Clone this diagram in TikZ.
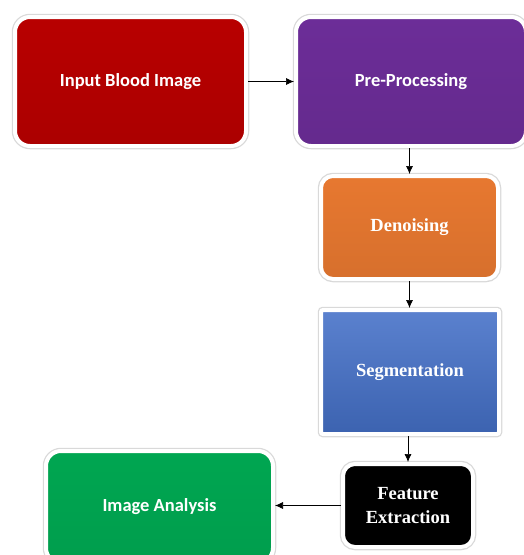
\documentclass[tikz,border=0pt]{standalone}
\usepackage{fontspec}
\setmainfont{Liberation Serif}
\newfontfamily\calibri{Carlito}
\usetikzlibrary{shadows,arrows.meta}

\definecolor{bloodred}{HTML}{B80000}
\definecolor{prepurple}{HTML}{6C2D98}
\definecolor{noiseorange}{HTML}{E77830}
\definecolor{segblue}{HTML}{4470C8}
\definecolor{analysisgreen}{HTML}{00A651}

\tikzset{
  box/.style={draw=white, line width=4pt, rounded corners=15pt, text=white,
    align=center, inner sep=0pt,
    preaction={draw=black!15, line width=6.5pt},
    drop shadow={opacity=0.25, shadow xshift=0pt, shadow yshift=-2pt}},
  sansbox/.style={box, font=\calibri\bfseries\fontsize{18.5}{24}\selectfont},
  serifbox/.style={box, font=\bfseries\fontsize{18.5}{24}\selectfont},
  flow/.style={-{Latex[length=8pt,width=7pt]}, line width=0.7pt, black}
}

\begin{document}
\begin{tikzpicture}[x=1pt,y=-1pt]
\useasboundingbox (0,0) rectangle (524,555);

% Top row
\node[sansbox, top color=bloodred, bottom color=bloodred!93!black,
  minimum width=231pt, minimum height=129pt] (input) at (130.5,81.5) {Input Blood Image};
\node[sansbox, top color=prepurple, bottom color=prepurple!93!black,
  minimum width=230pt, minimum height=129pt] (prep) at (411,81.5) {Pre-Processing};

% Right column
\node[serifbox, top color=noiseorange, bottom color=noiseorange!93!black, rounded corners=12pt,
  minimum width=177pt, minimum height=103pt] (denoise) at (409.5,227.5) {Denoising};
\node[serifbox, top color=segblue!88!white, bottom color=segblue!88!black, rounded corners=2pt,
  minimum width=178pt, minimum height=124pt] (segment) at (410,372) {Segmentation};
\node[serifbox, fill=black, rounded corners=12pt,
  minimum width=130pt, minimum height=83pt] (feature) at (408,505.5) {Feature\\Extraction};

% Bottom left
\node[sansbox, top color=analysisgreen, bottom color=analysisgreen!95!black,
  minimum width=227pt, minimum height=112pt] (analysis) at (159.5,507) {Image Analysis};

% Connectors
\draw[flow] (input.east) -- (prep.west);
\draw[flow] (prep.south -| denoise.north) -- (denoise.north);
\draw[flow] (denoise.south) -- (segment.north -| denoise.south);
\draw[flow] (segment.south -| feature.north) -- (feature.north);
\draw[flow] (feature.west) -- (analysis.east |- feature.west);
\end{tikzpicture}
\end{document}
